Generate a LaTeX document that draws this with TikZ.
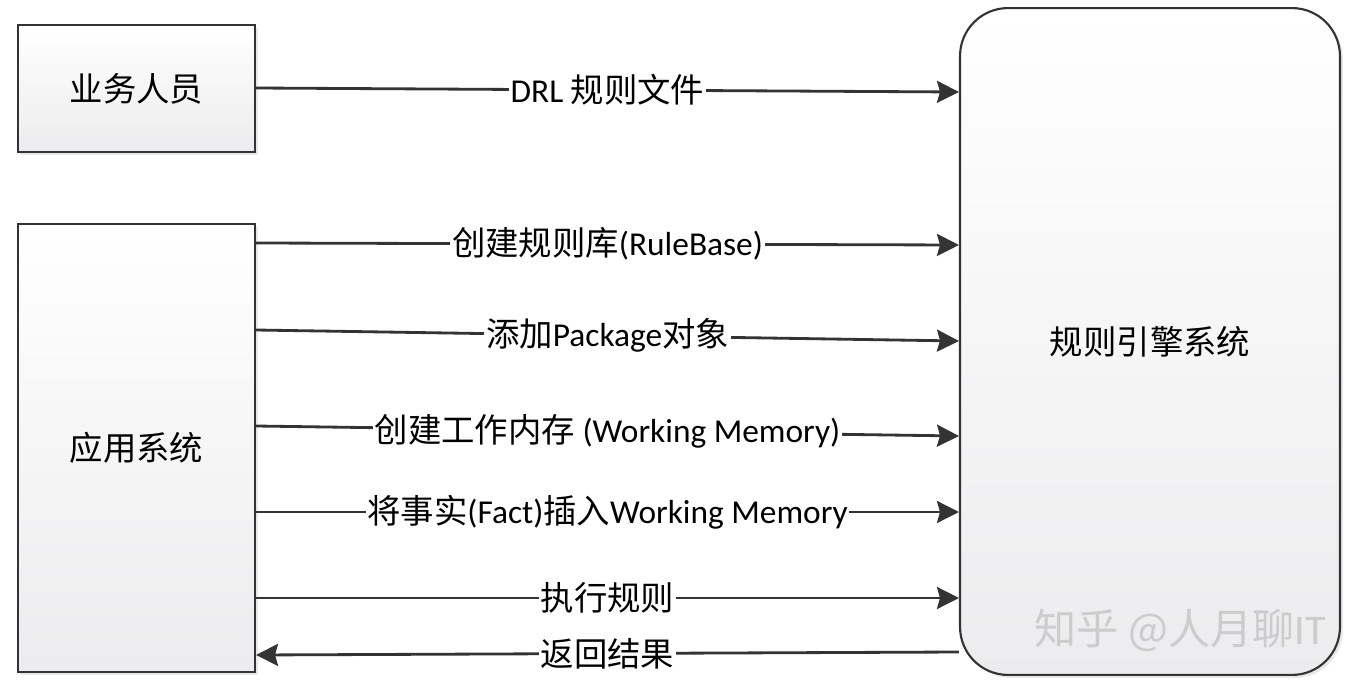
\documentclass[tikz,border=0pt]{standalone}
\usepackage{fontspec}
\setmainfont{Noto Sans CJK SC}
\newfontfamily\enfont{Carlito}
\newcommand\en[1]{{\enfont #1}}
\usetikzlibrary{arrows.meta,shadows}

\definecolor{linegray}{HTML}{333333}
\definecolor{boxbot}{HTML}{ECECEE}

\tikzset{
    box/.style={draw=linegray, line width=1.2pt, top color=white, bottom color=boxbot,
        drop shadow={opacity=0.18, shadow xshift=0.06cm, shadow yshift=-0.06cm},
        font=\fontsize{19}{22}\selectfont},
    flow/.style={draw=linegray, line width=1.6pt,
        -{Stealth[length=0.44cm, width=0.44cm, inset=0.06cm]}},
    lbl/.style={fill=white, inner sep=1pt, font=\fontsize{19}{22}\selectfont}
}

\begin{document}
\begin{tikzpicture}[x=0.02cm, y=-0.02cm]
    \useasboundingbox (0,0) rectangle (1356,686);

    % boxes
    \node[box, minimum width=4.74cm, minimum height=2.54cm] (staff) at (136.5,88.5) {业务人员};
    \node[box, minimum width=4.74cm, minimum height=8.96cm] (app) at (136.5,448) {应用系统};
    \node[box, rounded corners=0.96cm, minimum width=7.6cm, minimum height=13.34cm] (engine) at (1150,341.5) {规则引擎系统};

    % watermark
    \node[text=gray!40, font=\fontsize{24}{27}\selectfont] (mark) at (1180,630) {知乎 @人月聊\en{IT}};

    % messages
    \draw[flow] (staff.east |- 0,88) -- node[lbl]{\en{DRL} 规则文件} (engine.west |- 0,92);
    \draw[flow] (app.east |- 0,243) -- node[lbl]{创建规则库\en{(RuleBase)}} (engine.west |- 0,245);
    \draw[flow] (app.east |- 0,330) -- node[lbl]{添加\en{Package}对象} (engine.west |- 0,341);
    \draw[flow] (app.east |- 0,426) -- node[lbl]{创建工作内存 \en{(Working Memory)}} (engine.west |- 0,436);
    \draw[flow] (app.east |- 0,512) -- node[lbl]{将事实\en{(Fact)}插入\en{Working Memory}} (engine.west |- 0,512);
    \draw[flow] (app.east |- 0,598) -- node[lbl]{执行规则} (engine.west |- 0,598);
    \draw[flow] (engine.west |- 0,652) -- node[lbl]{返回结果} (app.east |- 0,655);
\end{tikzpicture}
\end{document}
